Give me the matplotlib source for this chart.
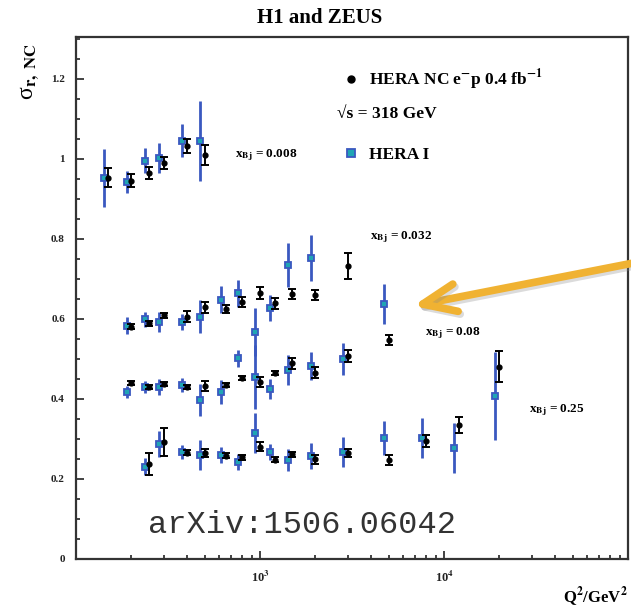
import numpy as np
import matplotlib
matplotlib.use('Agg')
import matplotlib.pyplot as plt
import matplotlib.patheffects as pe
from matplotlib.lines import Line2D
from matplotlib.patches import FancyArrowPatch
from matplotlib.ticker import FixedLocator, NullFormatter

plt.rcParams['font.family'] = ['Liberation Serif', 'DejaVu Serif']
plt.rcParams['font.weight'] = 'bold'
plt.rcParams['mathtext.fontset'] = 'stix'

# x_Bj = 0.008
q2_008 = [150, 200, 250, 300, 400, 500]
comb_008 = [0.953, 0.946, 0.964, 0.989, 1.033, 1.010]
comb_008_err = [0.024, 0.016, 0.015, 0.015, 0.018, 0.026]
q2_008_h1 = [150, 200, 250, 300, 400, 500]
hera1_008 = [0.952, 0.942, 0.996, 1.002, 1.046, 1.046]
hera1_008_err = [0.072, 0.027, 0.032, 0.038, 0.042, 0.100]

# x_Bj = 0.032
q2_032 = [200, 250, 300, 400, 500, 650, 800, 1000, 1200, 1500, 2000, 3000]
comb_032 = [0.581, 0.589, 0.609, 0.606, 0.629, 0.624, 0.643, 0.664, 0.639, 0.662, 0.660, 0.733]
comb_032_err = [0.006, 0.006, 0.006, 0.014, 0.013, 0.010, 0.012, 0.015, 0.014, 0.013, 0.013, 0.032]
q2_032_h1 = [200, 250, 300, 400, 500, 650, 800, 1000, 1200, 1500, 2000]
hera1_032 = [0.583, 0.599, 0.593, 0.593, 0.606, 0.648, 0.664, 0.568, 0.627, 0.735, 0.752]
hera1_032_err = [0.021, 0.019, 0.025, 0.020, 0.042, 0.034, 0.034, 0.060, 0.033, 0.054, 0.058]

# x_Bj = 0.08
q2_08 = [200, 250, 300, 400, 500, 650, 800, 1000, 1200, 1500, 2000, 3000, 5000]
comb_08 = [0.439, 0.431, 0.437, 0.431, 0.433, 0.435, 0.453, 0.443, 0.464, 0.489, 0.466, 0.508, 0.548]
comb_08_err = [0.005, 0.005, 0.005, 0.005, 0.012, 0.005, 0.005, 0.013, 0.005, 0.013, 0.013, 0.015, 0.013]
q2_08_h1 = [200, 250, 300, 400, 500, 650, 800, 1000, 1200, 1500, 2000, 3000, 5000]
hera1_08 = [0.418, 0.431, 0.429, 0.435, 0.398, 0.418, 0.502, 0.454, 0.424, 0.473, 0.483, 0.499, 0.637]
hera1_08_err = [0.015, 0.015, 0.020, 0.017, 0.040, 0.030, 0.021, 0.080, 0.025, 0.037, 0.035, 0.040, 0.050]

# x_Bj = 0.25
q2_25 = [250, 300, 400, 500, 650, 800, 1000, 1200, 1500, 2000, 3000, 5000, 8000, 12000, 20000]
comb_25 = [0.237, 0.293, 0.266, 0.266, 0.258, 0.254, 0.281, 0.248, 0.262, 0.249, 0.264, 0.248, 0.295, 0.335, 0.481]
comb_25_err = [0.027, 0.035, 0.006, 0.010, 0.006, 0.006, 0.011, 0.006, 0.006, 0.012, 0.010, 0.012, 0.016, 0.021, 0.038]
q2_25_h1 = [250, 300, 400, 500, 650, 800, 1000, 1200, 1500, 2000, 3000, 5000, 8000, 12000, 20000]
hera1_25 = [0.231, 0.287, 0.268, 0.260, 0.260, 0.242, 0.314, 0.268, 0.248, 0.258, 0.268, 0.303, 0.303, 0.278, 0.408]
hera1_25_err = [0.022, 0.032, 0.017, 0.037, 0.020, 0.020, 0.050, 0.020, 0.027, 0.033, 0.037, 0.042, 0.050, 0.062, 0.110]

bins = [
    ('0.008', q2_008, comb_008, comb_008_err, q2_008_h1, hera1_008, hera1_008_err, (730, 1.01)),
    ('0.032', q2_032, comb_032, comb_032_err, q2_032_h1, hera1_032, hera1_032_err, (3950, 0.805)),
    ('0.08', q2_08, comb_08, comb_08_err, q2_08_h1, hera1_08, hera1_08_err, (7900, 0.565)),
    ('0.25', q2_25, comb_25, comb_25_err, q2_25_h1, hera1_25, hera1_25_err, (29000, 0.372)),
]

blue = '#3a58c0'
teal = '#1fa5b4'

fig = plt.figure(figsize=(6.31, 6.11), dpi=100)
ax = fig.add_axes([76 / 631, 52 / 611, 552 / 631, 522 / 611])

for label, q2, comb, comb_err, q2h, h1, h1_err, pos in bins:
    ax.errorbar(np.array(q2h) * 0.945, h1, yerr=h1_err, fmt='s', ms=5,
                mfc=teal, mec=blue, mew=1.3, ecolor=blue, elinewidth=2,
                capsize=0, zorder=2)
    ax.errorbar(q2, comb, yerr=comb_err, fmt='o', ms=3.5, color='black',
                elinewidth=1.4, capsize=3.2, capthick=1.4, zorder=3)
    ax.text(pos[0], pos[1], r'x$_{\mathbf{Bj}}$ = ' + label, fontsize=9.5,
            ha='left', va='center')

ax.set_xscale('log')
ax.set_xlim(1e2, 1e5)
ax.set_ylim(0, 1.305)
ax.set_xticks([1e3, 1e4])
ax.set_xticklabels([r'10$^{3}$', r'10$^{4}$'])
minors = [m * 10 ** e for e in (2, 3, 4) for m in range(2, 10)]
ax.xaxis.set_minor_locator(FixedLocator(minors))
ax.xaxis.set_minor_formatter(NullFormatter())
ax.set_yticks([0, 0.2, 0.4, 0.6, 0.8, 1.0, 1.2])
ax.set_yticklabels(['0', '0.2', '0.4', '0.6', '0.8', '1', '1.2'])
ax.yaxis.set_minor_locator(FixedLocator(np.arange(0, 1.31, 0.05)))
ax.tick_params(which='both', direction='in', width=1.2,
               colors='#222222', pad=8)
ax.tick_params(axis='x', labelsize=9)
ax.tick_params(axis='y', labelsize=8)
ax.tick_params(which='major', length=6)
ax.tick_params(which='minor', length=3)
for s in ax.spines.values():
    s.set_linewidth(1.6)
    s.set_color('#333333')

# legend
handles = [
    Line2D([], [], marker='o', ms=5, color='black', linestyle='none'),
    Line2D([], [], marker='s', ms=6, mfc=teal, mec=blue, mew=1.3, linestyle='none'),
]
ax.legend(handles, [r'HERA NC e$^{-}$p 0.4 fb$^{-1}$', 'HERA I'],
          loc='upper left', bbox_to_anchor=(0.455, 0.971), frameon=False,
          fontsize=12.5, handlelength=1.0, handletextpad=0.5, labelspacing=3.15)
ax.text(0.473, 0.853, '\u221As = 318 GeV', transform=ax.transAxes,
        fontsize=12.5, ha='left', va='center')

ax.text(0.13, 0.065, 'arXiv:1506.06042', transform=ax.transAxes,
        family='Liberation Mono', fontweight='normal', fontsize=23,
        color='#333333', ha='left', va='center')

fig.text(320 / 631, 1 - 18 / 611, 'H1 and ZEUS', fontsize=15, ha='center', va='center')
fig.text(30 / 631, 1 - 100 / 611, '\u03c3$_{\\mathrm{r,\\ NC}}$', rotation=90,
         fontsize=17, fontweight='normal', ha='center', va='bottom')
fig.text(628 / 631, 1 - 597 / 611, r'Q$^{2}$/GeV$^{2}$', fontsize=12,
         ha='right', va='center')

arrow = FancyArrowPatch(posA=(1.02, 1 - 261 / 611), posB=(413 / 631, 1 - 306 / 611),
                        transform=fig.transFigure, arrowstyle='->,head_length=2.4,head_width=1.0',
                        mutation_scale=10, lw=5.5, color='#f0b232',
                        capstyle='round', joinstyle='round', shrinkA=0, shrinkB=0,
                        path_effects=[pe.SimpleLineShadow(offset=(1.5, -2), shadow_color='#888888', alpha=0.3),
                                      pe.Normal()])
fig.add_artist(arrow)

fig.savefig('out.png', dpi=100)
